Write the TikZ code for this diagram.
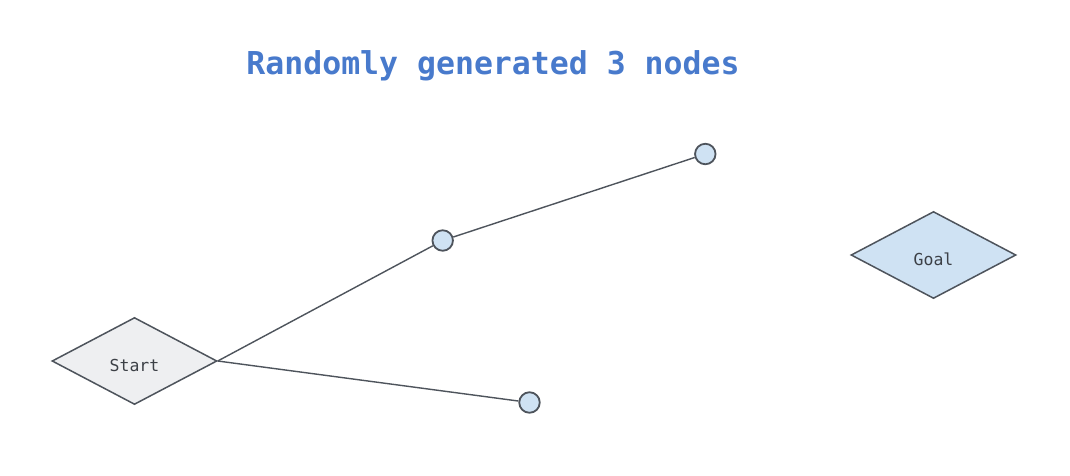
\documentclass[tikz,border=0pt]{standalone}
\usepackage{fontspec}
\setmonofont{DejaVu Sans Mono}
\usetikzlibrary{shapes.geometric}
\definecolor{titleblue}{RGB}{72,122,204}
\definecolor{edgegray}{RGB}{78,84,92}
\definecolor{txtgray}{RGB}{60,64,70}
\definecolor{startfill}{RGB}{238,239,241}
\definecolor{nodeblue}{RGB}{207,226,243}
\tikzset{
  diam/.style={diamond, draw=edgegray, line width=1.5pt, inner sep=0pt,
    minimum width=165pt, minimum height=87pt, text=txtgray,
    font=\fontsize{16.5}{20}\selectfont\ttfamily},
  rnode/.style={circle, draw=edgegray, fill=nodeblue, line width=1.8pt,
    inner sep=0pt, minimum size=20.5pt},
  conn/.style={draw=edgegray, line width=1.4pt},
}
\begin{document}
\begin{tikzpicture}[x=1pt,y=-1pt]
\useasboundingbox (0,0) rectangle (1070,475);
\fill[white] (0,0) rectangle (1070,475);
\node[font=\fontsize{31.5}{36}\selectfont\ttfamily\bfseries, text=titleblue] (title) at (493,65.5) {Randomly generated 3 nodes};
\node[diam, fill=startfill] (start) at (134.5,361) {\smash{\raisebox{-10pt}{Start}}};
\node[diam, fill=nodeblue] (goal) at (933.5,255) {\smash{\raisebox{-10pt}{Goal}}};
\node[rnode] (n1) at (442.7,240.5) {};
\node[rnode] (n2) at (705.3,154) {};
\node[rnode] (n3) at (529.5,402.5) {};
\draw[conn] (start.east) -- (n1);
\draw[conn] (n1) -- (n2);
\draw[conn] (start.east) -- (n3);
\end{tikzpicture}
\end{document}
